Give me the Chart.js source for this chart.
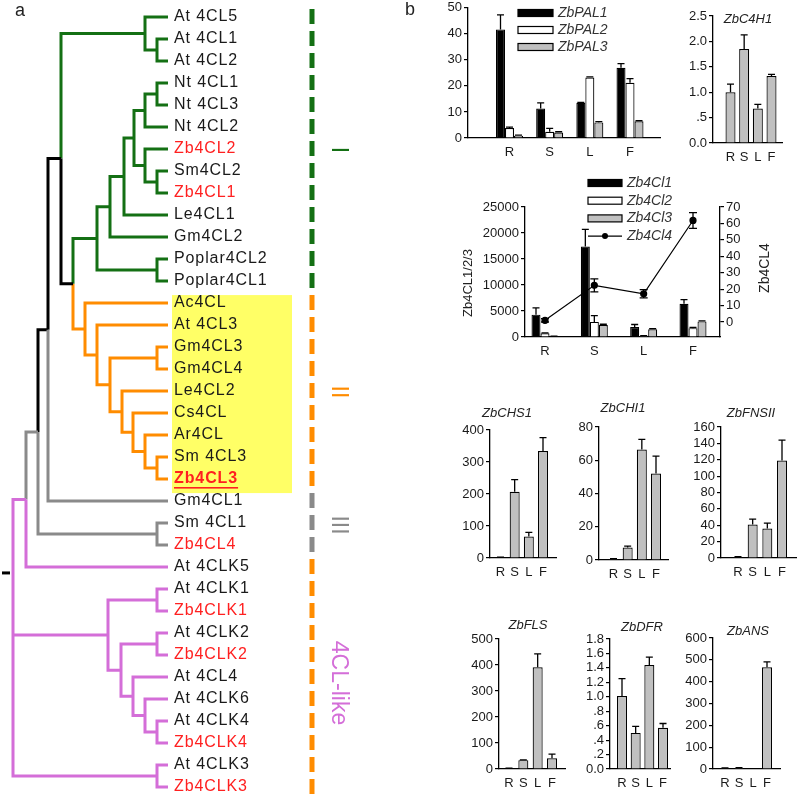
<!DOCTYPE html>
<html lang="en">
<head>
<meta charset="UTF-8">
<title>4CL phylogeny and expression</title>
<script src="https://cdn.jsdelivr.net/npm/chart.js"></script>
<style>
  body { margin: 0; background: #fff; }
  #fig { position: relative; width: 797px; height: 797px; overflow: hidden; background: #fff; }
  #fig canvas { position: absolute; }
</style>
</head>
<body>
<div id="fig"></div>
<script>
// ---------- data ----------
const cats = ['R', 'S', 'L', 'F'];

const leafNames = ['At 4CL5', 'At 4CL1', 'At 4CL2', 'Nt 4CL1', 'Nt 4CL3', 'Nt 4CL2', 'Zb4CL2', 'Sm4CL2',
  'Zb4CL1', 'Le4CL1', 'Gm4CL2', 'Poplar4CL2', 'Poplar4CL1', 'Ac4CL', 'At 4CL3', 'Gm4CL3', 'Gm4CL4',
  'Le4CL2', 'Cs4CL', 'Ar4CL', 'Sm 4CL3', 'Zb4CL3', 'Gm4CL1', 'Sm 4CL1', 'Zb4CL4', 'At 4CLK5',
  'At 4CLK1', 'Zb4CLK1', 'At 4CLK2', 'Zb4CLK2', 'At 4CL4', 'At 4CLK6', 'At 4CLK4', 'Zb4CLK4',
  'At 4CLK3', 'Zb4CLK3'];

const G = '#147014', O = '#ff8c00', K = '#000000', Y = '#8a8a8a', P = '#d46ed8';
const n = (x, c, ...k) => ({ x, c, k });
// node depth (x) and children; numbers are leaf indexes
const tree = n(13, P,
  n(26, P,
    n(38, Y,
      n(48, K,
        n(61, K,
          n(145, G, 0, n(157, G, 1, 2)),
          n(73, K,
            n(97, G,
              n(110, G,
                n(124, G,
                  n(134, G,
                    n(145, G, n(157, G, 3, 4), 5),
                    n(145, G, 6, n(157, G, 7, 8))),
                  9),
                10),
              n(157, G, 11, 12)),
            n(85, O, 13,
              n(97, O, 14,
                n(110, O, n(157, O, 15, 16),
                  n(122, O, 17,
                    n(133, O, 18,
                      n(145, O, 19, n(157, O, 20, 21))))))))),
        [22, Y]),
      n(157, Y, 23, 24)),
    25),
  n(108, P, n(157, P, 26, 27),
    n(121, P, n(157, P, 28, 29),
      n(133, P, 30,
        n(145, P, 31, n(157, P, 32, 33))))),
  n(157, P, 34, 35));

const cladeBars = [
  { from: 0, to: 12, color: G },
  { from: 13, to: 21, color: O },
  { from: 22, to: 24, color: Y },
  { from: 25, to: 35, color: O }
];

const pal1 = [41.7, 11.3, 13.5, 27.0], pal1Err = [5.6, 2.2, 0.2, 1.6];
const pal2 = [3.8, 2.4, 23.2, 21.2], pal2Err = [0.4, 1.3, 0.3, 1.6];
const pal3 = [0.9, 2.1, 6.0, 6.4], pal3Err = [0.2, 0.3, 0.3, 0.3];
const c4h1 = [1.00, 1.85, 0.68, 1.32], c4h1Err = [0.16, 0.28, 0.08, 0.03];
const cl1 = [4300, 17400, 1900, 6400], cl1Err = [1300, 3300, 500, 800];
const cl2 = [700, 2900, 200, 1700], cl2Err = [100, 1200, 50, 150];
const cl3 = [100, 2300, 1500, 3000], cl3Err = [50, 150, 100, 100];
const cl4 = [1, 22.3, 17.2, 61.8], cl4Err = [1, 4, 2.5, 4.8];
const chs1 = [2, 207, 67, 334], chs1Err = [1, 38, 13, 42];
const chi1 = [0.6, 7.5, 66.5, 52], chi1Err = [0.2, 0.8, 6, 10.5];
const fnsii = [1, 41, 36, 119], fnsiiErr = [0.5, 6.5, 6.5, 25];
const fls = [2, 34, 391, 41], flsErr = [1, 1, 52, 16];
const dfr = [1.01, 0.50, 1.44, 0.57], dfrErr = [0.24, 0.09, 0.11, 0.06];
const ans = [4, 5, 0, 466], ansErr = [1, 1, 0, 25];

const palTicks = ['0', '10', '20', '30', '40', '50'];
const c4h1Ticks = ['0.0', '.5', '1.0', '1.5', '2.0', '2.5'];
const clTicks = ['0', '5000', '10000', '15000', '20000', '25000'];
const cl4Ticks = ['0', '10', '20', '30', '40', '50', '60', '70'];
const chsTicks = ['0', '100', '200', '300', '400'];
const chiTicks = ['0', '20', '40', '60', '80'];
const fnsTicks = ['0', '20', '40', '60', '80', '100', '120', '140', '160'];
const flsTicks = ['0', '100', '200', '300', '400', '500'];
const dfrTicks = ['0.0', '.2', '.4', '.6', '.8', '1.0', '1.2', '1.4', '1.6', '1.8'];
const ansTicks = ['0', '100', '200', '300', '400', '500', '600'];

// ---------- setup ----------
const FONT = '"Liberation Sans", Arial, sans-serif';
Chart.defaults.font.family = FONT;
Chart.defaults.color = '#1a1a1a';
Chart.defaults.animation = false;
Chart.defaults.responsive = false;
Chart.defaults.devicePixelRatio = 1;
Chart.defaults.plugins.legend.display = false;
Chart.defaults.plugins.tooltip.enabled = false;

const fig = document.getElementById('fig');
const extras = {};

function makeCanvas(id, left, top, w, h) {
  const c = document.createElement('canvas');
  c.id = id; c.width = w; c.height = h;
  c.style.left = left + 'px'; c.style.top = top + 'px';
  c.style.width = w + 'px'; c.style.height = h + 'px';
  fig.appendChild(c);
  return c;
}

function drawText(ctx, ox, oy, it) {
  ctx.save();
  ctx.font = it.font; ctx.fillStyle = it.color || '#1a1a1a';
  ctx.textAlign = it.align || 'center'; ctx.textBaseline = 'middle';
  ctx.translate(it.x - ox, it.y - oy);
  if (it.rot) ctx.rotate(it.rot);
  ctx.fillText(it.t, 0, 0);
  ctx.restore();
}

// error bars (one-sided on bars, two-sided on line points)
Chart.register({
  id: 'errorBars',
  afterDatasetsDraw(chart) {
    const ctx = chart.ctx;
    chart.data.datasets.forEach((ds, i) => {
      if (!ds.errors) return;
      const meta = chart.getDatasetMeta(i);
      const ys = chart.scales[meta.yAxisID];
      const isLine = meta.type === 'line';
      ctx.save();
      ctx.strokeStyle = '#000'; ctx.lineWidth = 1.3;
      meta.data.forEach((el, j) => {
        const v = ds.data[j].y, e = ds.errors[j];
        if (!e) return;
        const top = ys.getPixelForValue(v + e);
        const bot = isLine ? ys.getPixelForValue(v - e) : el.y;
        const cw = isLine ? 4 : 3.5;
        ctx.beginPath();
        ctx.moveTo(el.x, bot); ctx.lineTo(el.x, top);
        ctx.moveTo(el.x - cw, top); ctx.lineTo(el.x + cw, top);
        if (isLine) { ctx.moveTo(el.x - cw, bot); ctx.lineTo(el.x + cw, bot); }
        ctx.stroke();
      });
      ctx.restore();
    });
  }
});

// page-positioned texts and legends
Chart.register({
  id: 'pageDecor',
  afterDraw(chart) {
    const ex = extras[chart.canvas.id];
    if (!ex) return;
    const ctx = chart.ctx;
    const ox = parseFloat(chart.canvas.style.left), oy = parseFloat(chart.canvas.style.top);
    (ex.texts || []).forEach(it => drawText(ctx, ox, oy, it));
    if (ex.legend) {
      const lg = ex.legend;
      chart.data.datasets.forEach((ds, i) => {
        const x = lg.x - ox, y = lg.y + i * lg.step - oy;
        ctx.save();
        if (ds.type === 'line') {
          ctx.strokeStyle = '#000'; ctx.lineWidth = 1.2;
          ctx.beginPath(); ctx.moveTo(x, y); ctx.lineTo(x + lg.w, y); ctx.stroke();
          ctx.fillStyle = '#000';
          ctx.beginPath(); ctx.arc(x + lg.w / 2, y, 3, 0, Math.PI * 2); ctx.fill();
        } else {
          ctx.fillStyle = ds.backgroundColor;
          ctx.fillRect(x, y - lg.h / 2, lg.w, lg.h);
          ctx.strokeStyle = '#000'; ctx.lineWidth = 1.2;
          ctx.strokeRect(x, y - lg.h / 2, lg.w, lg.h);
        }
        ctx.restore();
        drawText(ctx, 0, 0, { t: ds.label, x: x + lg.w + 5, y: y, align: 'left', font: 'italic 14px ' + FONT, color: '#333' });
      });
    }
  }
});

// ---------- tree (panel a) ----------
const TIP = 168;
const leafY0 = -17 / 22;
const highlight = { x0: 172, x1: 292, top: 12.64, bottom: 21.64 };

function place(node) {
  if (typeof node === 'number') return { x: TIP, y: node };
  if (Array.isArray(node)) return { x: TIP, y: node[0], c: node[1] };
  const kids = node.k.map(place);
  return { x: node.x, c: node.c, k: kids, y: (kids[0].y + kids[kids.length - 1].y) / 2 };
}
const segs = {};
function collect(nd) {
  if (!nd.k) return;
  nd.k.forEach(ch => {
    const col = ch.c || nd.c;
    (segs[col] = segs[col] || []).push(
      { x: nd.x, y: nd.y }, { x: nd.x, y: ch.y }, { x: ch.x, y: ch.y }, { x: ch.x, y: null });
    collect(ch);
  });
}
collect(place(tree));

const treeSets = Object.keys(segs).map(col => ({
  data: segs[col], borderColor: col, borderWidth: 3, pointRadius: 0, showLine: true,
  borderCapStyle: 'butt', borderJoinStyle: 'miter', clip: false
}));
treeSets.push({
  data: [{ x: 2, y: 25.27 }, { x: 10, y: 25.27 }], borderColor: K, borderWidth: 3,
  pointRadius: 0, showLine: true, clip: false
});
cladeBars.forEach(b => treeSets.push({
  data: [{ x: 312, y: b.from - 0.36 }, { x: 312, y: b.to + 0.36 }], borderColor: b.color,
  borderWidth: 5, borderDash: [15, 7], borderCapStyle: 'butt', pointRadius: 0, showLine: true, clip: false
}));

makeCanvas('tree', 0, 0, 400, 797);
extras.tree = {
  texts: [
    { t: 'a', x: 20, y: 11, font: '18px ' + FONT, color: '#222' },
    { t: 'I', x: 338, y: 150, font: '23px ' + FONT, color: G, rot: Math.PI / 2 },
    { t: 'II', x: 338, y: 392, font: '23px ' + FONT, color: O, rot: Math.PI / 2 },
    { t: 'III', x: 338, y: 525, font: '23px ' + FONT, color: Y, rot: Math.PI / 2 },
    { t: '4CL-like', x: 338, y: 683, font: '23px ' + FONT, color: P, rot: Math.PI / 2 }
  ]
};
new Chart(document.getElementById('tree'), {
  type: 'scatter',
  data: { datasets: treeSets },
  options: {
    layout: { padding: 0 },
    scales: {
      x: { type: 'linear', min: 0, max: 400, display: false },
      y: { type: 'linear', min: leafY0, max: leafY0 + 797 / 22, reverse: true, display: false }
    }
  },
  plugins: [{
    id: 'treeDecor',
    beforeDatasetsDraw(chart) {
      const { x, y } = chart.scales, ctx = chart.ctx;
      ctx.save();
      ctx.fillStyle = '#ffff66';
      const y0 = y.getPixelForValue(highlight.top), y1 = y.getPixelForValue(highlight.bottom);
      const x0 = x.getPixelForValue(highlight.x0), x1 = x.getPixelForValue(highlight.x1);
      ctx.fillRect(x0, y0, x1 - x0, y1 - y0);
      ctx.restore();
    },
    afterDatasetsDraw(chart) {
      const { x, y } = chart.scales, ctx = chart.ctx;
      leafNames.forEach((name, i) => {
        const red = name.startsWith('Zb');
        const bold = name === 'Zb4CL3';
        const px = x.getPixelForValue(TIP + 6), py = y.getPixelForValue(i);
        ctx.save();
        ctx.font = (bold ? 'bold ' : '') + '16px ' + FONT;
        ctx.letterSpacing = '0.9px';
        ctx.fillStyle = red ? '#ff2020' : '#1a1a1a';
        ctx.textAlign = 'left'; ctx.textBaseline = 'middle';
        ctx.fillText(name, px, py);
        if (bold) {
          const w = ctx.measureText(name).width;
          ctx.fillRect(px, py + 8, w, 1.6);
        }
        ctx.restore();
      });
    }
  }]
});

// ---------- bar charts (panel b) ----------
function yScale(labels, width, pos, min) {
  return {
    type: 'linear', position: pos, min: min || 0, max: parseFloat(labels[labels.length - 1]),
    afterBuildTicks: ax => { ax.ticks = labels.map(t => ({ value: parseFloat(t) })); },
    afterFit: ax => { ax.width = width; },
    ticks: { autoSkip: false, padding: 2, font: { size: 13 }, color: '#1a1a1a', callback: (v, i) => labels[i] },
    grid: { drawOnChartArea: false, drawTicks: true, tickLength: 4, color: '#000', lineWidth: 1.2 },
    border: { display: true, color: '#000', width: 1.3 }
  };
}

function barChart(id, L, series, yLabels, more) {
  more = more || {};
  const step = (L.xF - L.xR) / 3;
  const left = L.ax - L.padL, top = L.yTop - L.padT;
  const w = (L.x1 - L.ax) + L.padL + L.padR, h = (L.y0 - L.yTop) + L.padT + L.padB;
  makeCanvas(id, left, top, w, h);
  const nBars = series.filter(s => !s.line).length;
  const catPct = nBars * L.bw / step;
  const datasets = series.map(s => s.line ? {
    type: 'line', label: s.label, yAxisID: 'y1', order: 0,
    data: s.values.map((v, i) => ({ x: i, y: v })), errors: s.errors,
    borderColor: '#000', borderWidth: 1.2, pointRadius: 3,
    pointBackgroundColor: '#000', pointBorderColor: '#000', tension: 0
  } : {
    type: 'bar', label: s.label, order: 1,
    data: s.values.map((v, i) => ({ x: i, y: v })), errors: s.errors,
    backgroundColor: s.fill, borderColor: '#000', borderWidth: 1.2,
    categoryPercentage: catPct, barPercentage: 1
  });
  const scales = {
    x: {
      type: 'linear', offset: false, min: (L.ax - L.xR) / step, max: (L.x1 - L.xR) / step,
      afterBuildTicks: ax => { ax.ticks = cats.map((c, i) => ({ value: i })); },
      afterFit: ax => { ax.height = L.padB; },
      ticks: { autoSkip: false, maxRotation: 0, padding: 7, font: { size: 13 }, color: '#1a1a1a', callback: (v, i) => cats[i] },
      grid: { display: false, drawTicks: false },
      border: { display: true, color: '#000', width: 1.3 }
    },
    y: yScale(yLabels, L.padL, 'left')
  };
  if (more.right) scales.y1 = yScale(more.right.labels, L.padR, 'right', more.right.min);
  extras[id] = { texts: more.texts || [], legend: more.legend };
  new Chart(document.getElementById(id), {
    type: 'bar',
    data: { datasets },
    options: {
      layout: { padding: { left: 0, top: L.padT, right: more.right ? 0 : L.padR, bottom: 0 } },
      scales
    }
  });
}

const BLACK = '#000000', WHITE = '#ffffff', GRAY = '#c0c0c0';
const title = (t, x, y) => ({ t, x, y, font: 'italic 13px ' + FONT, color: '#222' });

barChart('pal', { ax: 468, x1: 660, xR: 509.5, xF: 630, y0: 138, yTop: 7, padL: 70, padT: 9, padR: 8, padB: 26, bw: 9 },
  [{ label: 'ZbPAL1', values: pal1, errors: pal1Err, fill: BLACK },
   { label: 'ZbPAL2', values: pal2, errors: pal2Err, fill: WHITE },
   { label: 'ZbPAL3', values: pal3, errors: pal3Err, fill: GRAY }],
  palTicks,
  { legend: { x: 518, y: 13, step: 17, w: 35, h: 7 },
    texts: [{ t: 'b', x: 410, y: 10, font: '18px ' + FONT, color: '#222' }] });

barChart('c4h1', { ax: 713, x1: 782, xR: 730.5, xF: 771.5, y0: 143, yTop: 16, padL: 40, padT: 16, padR: 10, padB: 26, bw: 10 },
  [{ label: 'ZbC4H1', values: c4h1, errors: c4h1Err, fill: GRAY }],
  c4h1Ticks, { texts: [title('ZbC4H1', 748, 19)] });

barChart('cl', { ax: 525, x1: 720, xR: 545, xF: 693, y0: 337, yTop: 207, padL: 70, padT: 40, padR: 55, padB: 26, bw: 9 },
  [{ label: 'Zb4Cl1', values: cl1, errors: cl1Err, fill: BLACK },
   { label: 'Zb4Cl2', values: cl2, errors: cl2Err, fill: WHITE },
   { label: 'Zb4Cl3', values: cl3, errors: cl3Err, fill: GRAY },
   { label: 'Zb4Cl4', values: cl4, errors: cl4Err, line: true }],
  clTicks,
  { right: { labels: cl4Ticks, min: -9.13 },
    legend: { x: 588, y: 183, step: 17.7, w: 34, h: 7 },
    texts: [
      { t: 'Zb4CL1/2/3', x: 468, y: 283, font: '13px ' + FONT, color: '#222', rot: -Math.PI / 2 },
      { t: 'Zb4CL4', x: 765, y: 268, font: '14px ' + FONT, color: '#222', rot: -Math.PI / 2 }
    ] });

barChart('chs1', { ax: 490, x1: 556, xR: 500.5, xF: 543, y0: 558, yTop: 430, padL: 42, padT: 26, padR: 6, padB: 26, bw: 10 },
  [{ label: 'ZbCHS1', values: chs1, errors: chs1Err, fill: GRAY }],
  chsTicks, { texts: [title('ZbCHS1', 507, 413)] });

barChart('chi1', { ax: 599, x1: 668, xR: 613.5, xF: 656, y0: 560, yTop: 427, padL: 36, padT: 26, padR: 6, padB: 26, bw: 10 },
  [{ label: 'ZbCHI1', values: chi1, errors: chi1Err, fill: GRAY }],
  chiTicks, { texts: [title('ZbCHI1', 623, 408)] });

barChart('fnsii', { ax: 721, x1: 796, xR: 738, xF: 782, y0: 558, yTop: 427, padL: 40, padT: 26, padR: 1, padB: 26, bw: 10 },
  [{ label: 'ZbFNSII', values: fnsii, errors: fnsiiErr, fill: GRAY }],
  fnsTicks, { texts: [title('ZbFNSII', 751, 413)] });

barChart('fls', { ax: 499, x1: 565, xR: 509, xF: 552, y0: 769, yTop: 639, padL: 42, padT: 26, padR: 6, padB: 26, bw: 10 },
  [{ label: 'ZbFLS', values: fls, errors: flsErr, fill: GRAY }],
  flsTicks, { texts: [title('ZbFLS', 528, 625)] });

barChart('dfr', { ax: 610, x1: 670, xR: 622, xF: 663, y0: 769, yTop: 639, padL: 40, padT: 26, padR: 6, padB: 26, bw: 10 },
  [{ label: 'ZbDFR', values: dfr, errors: dfrErr, fill: GRAY }],
  dfrTicks, { texts: [title('ZbDFR', 642, 627)] });

barChart('ans', { ax: 713, x1: 780, xR: 725, xF: 767, y0: 769, yTop: 638, padL: 40, padT: 26, padR: 6, padB: 26, bw: 10 },
  [{ label: 'ZbANS', values: ans, errors: ansErr, fill: GRAY }],
  ansTicks, { texts: [title('ZbANS', 748, 631)] });
</script>
</body>
</html>
